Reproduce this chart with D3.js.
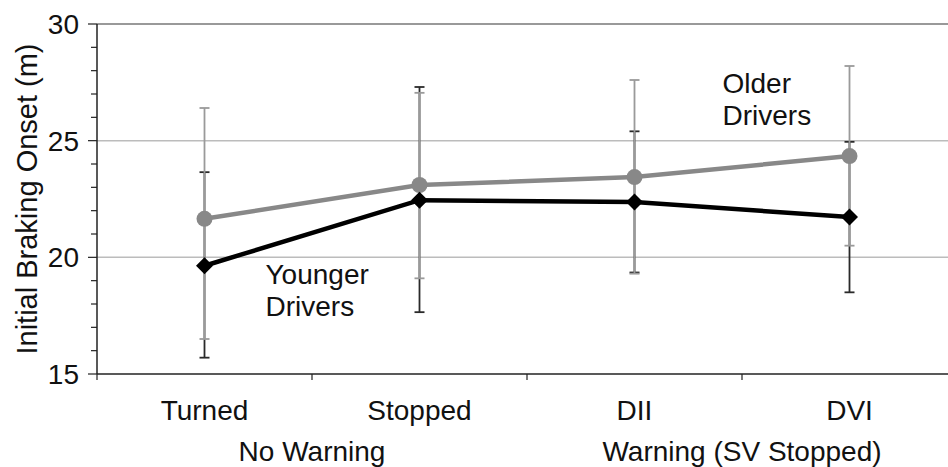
<!DOCTYPE html>
<html>
<head>
<meta charset="utf-8">
<script src="https://cdn.jsdelivr.net/npm/d3@7"></script>
<style>
  body { margin: 0; background: #fff; }
  text { font-family: "Liberation Sans", Arial, sans-serif; fill: #111; }
</style>
</head>
<body>
<div id="chart"></div>
<script>
// categories and groups
var categories = ["Turned", "Stopped", "DII", "DVI"];
var groups = [
    { label: "No Warning", from: "Turned", to: "Stopped" },
    { label: "Warning (SV Stopped)", from: "DII", to: "DVI" }
];

// older drivers (grey)
var olderMean = [21.65, 23.1, 23.44, 24.34];
var olderHigh = [26.4, 27.05, 27.6, 28.2];
var olderLow = [16.5, 19.1, 19.3, 20.5];

// younger drivers (black)
var youngerMean = [19.64, 22.45, 22.37, 21.73];
var youngerHigh = [23.65, 27.3, 25.4, 24.95];
var youngerLow = [15.7, 17.65, 19.35, 18.5];

var yTicks = [15, 20, 25, 30];
var yMinor = d3.range(15, 31, 1);

var width = 948, height = 467;
var plotLeft = 97, plotRight = 957, plotTop = 24, plotBottom = 374;

var svg = d3.select("#chart").append("svg")
    .attr("width", width)
    .attr("height", height);

var x = d3.scaleBand().domain(categories).range([plotLeft, plotRight]);
var y = d3.scaleLinear().domain([15, 30]).range([plotBottom, plotTop]);
var cx = function(c) { return x(c) + x.bandwidth() / 2; };

// gridlines
svg.append("g").selectAll("line")
    .data([20, 25])
    .enter().append("line")
    .attr("x1", plotLeft).attr("x2", width)
    .attr("y1", function(d) { return y(d); })
    .attr("y2", function(d) { return y(d); })
    .attr("stroke", "#bcbcbc")
    .attr("stroke-width", 1.5);

svg.append("line")
    .attr("x1", plotLeft).attr("x2", width)
    .attr("y1", y(30)).attr("y2", y(30))
    .attr("stroke", "#777")
    .attr("stroke-width", 1.5);

// y axis
var yAxis = svg.append("g").attr("transform", "translate(" + plotLeft + ",0)");
yAxis.selectAll("line.minor")
    .data(yMinor)
    .enter().append("line")
    .attr("class", "minor")
    .attr("x1", function(d) { return yTicks.indexOf(d) >= 0 ? -9 : -6; })
    .attr("x2", 0)
    .attr("y1", function(d) { return y(d); })
    .attr("y2", function(d) { return y(d); })
    .attr("stroke", "#222")
    .attr("stroke-width", 1.2);
yAxis.append("line")
    .attr("x1", 0).attr("x2", 0)
    .attr("y1", y(30)).attr("y2", y(15))
    .attr("stroke", "#222")
    .attr("stroke-width", 1.5);
yAxis.selectAll("text")
    .data(yTicks)
    .enter().append("text")
    .attr("x", -18)
    .attr("y", function(d) { return y(d); })
    .attr("dy", "0.36em")
    .attr("text-anchor", "end")
    .style("font-size", "28px")
    .text(function(d) { return d; });

svg.append("text")
    .attr("transform", "translate(37," + ((plotTop + plotBottom) / 2) + ") rotate(-90)")
    .attr("text-anchor", "middle")
    .style("font-size", "29px")
    .text("Initial Braking Onset (m)");

// x axis
var xAxis = svg.append("g");
xAxis.append("line")
    .attr("x1", plotLeft).attr("x2", width)
    .attr("y1", plotBottom).attr("y2", plotBottom)
    .attr("stroke", "#222")
    .attr("stroke-width", 1.5);
xAxis.selectAll("line.tick")
    .data(categories)
    .enter().append("line")
    .attr("class", "tick")
    .attr("x1", function(d) { return x(d); })
    .attr("x2", function(d) { return x(d); })
    .attr("y1", plotBottom).attr("y2", plotBottom + 6)
    .attr("stroke", "#222")
    .attr("stroke-width", 1.2);
xAxis.selectAll("text.cat")
    .data(categories)
    .enter().append("text")
    .attr("class", "cat")
    .attr("x", cx)
    .attr("y", plotBottom + 46)
    .attr("text-anchor", "middle")
    .style("font-size", "28px")
    .text(function(d) { return d; });
xAxis.selectAll("text.grp")
    .data(groups)
    .enter().append("text")
    .attr("class", "grp")
    .attr("x", function(d) { return (cx(d.from) + cx(d.to)) / 2; })
    .attr("y", plotBottom + 87)
    .attr("text-anchor", "middle")
    .style("font-size", "28px")
    .text(function(d) { return d.label; });

// error bars
function errorBars(low, high, color) {
    var g = svg.append("g");
    var rows = categories.map(function(c, i) { return { c: c, lo: low[i], hi: high[i] }; });
    g.selectAll("line.stem").data(rows).enter().append("line")
        .attr("class", "stem")
        .attr("x1", function(d) { return cx(d.c); })
        .attr("x2", function(d) { return cx(d.c); })
        .attr("y1", function(d) { return y(d.hi); })
        .attr("y2", function(d) { return y(d.lo); })
        .attr("stroke", color).attr("stroke-width", 1.8);
    ["hi", "lo"].forEach(function(k) {
        g.selectAll("line.cap" + k).data(rows).enter().append("line")
            .attr("class", "cap" + k)
            .attr("x1", function(d) { return cx(d.c) - 5; })
            .attr("x2", function(d) { return cx(d.c) + 5; })
            .attr("y1", function(d) { return y(d[k]); })
            .attr("y2", function(d) { return y(d[k]); })
            .attr("stroke", color).attr("stroke-width", 1.8);
    });
}
errorBars(youngerLow, youngerHigh, "#2a2a2a");
errorBars(olderLow, olderHigh, "#9a9a9a");

var line = d3.line()
    .x(function(d, i) { return cx(categories[i]); })
    .y(function(d) { return y(d); });

// older series
svg.append("path")
    .attr("d", line(olderMean))
    .attr("fill", "none")
    .attr("stroke", "#888")
    .attr("stroke-width", 4.5);
svg.append("g").selectAll("circle")
    .data(olderMean)
    .enter().append("circle")
    .attr("cx", function(d, i) { return cx(categories[i]); })
    .attr("cy", function(d) { return y(d); })
    .attr("r", 8)
    .attr("fill", "#888");

// younger series
svg.append("path")
    .attr("d", line(youngerMean))
    .attr("fill", "none")
    .attr("stroke", "#000")
    .attr("stroke-width", 4.5);
svg.append("g").selectAll("path")
    .data(youngerMean)
    .enter().append("path")
    .attr("d", d3.symbol().type(d3.symbolSquare).size(145))
    .attr("transform", function(d, i) {
        return "translate(" + cx(categories[i]) + "," + y(d) + ") rotate(45)";
    })
    .attr("fill", "#000");

// series labels
var labels = [
    { lines: ["Older", "Drivers"], cat: "DII", dx: 88, value: 27.05 },
    { lines: ["Younger", "Drivers"], cat: "Turned", dx: 61, value: 18.85 }
];
labels.forEach(function(l) {
    var t = svg.append("text")
        .attr("x", cx(l.cat) + l.dx)
        .attr("y", y(l.value))
        .style("font-size", "28px");
    l.lines.forEach(function(s, i) {
        t.append("tspan")
            .attr("x", cx(l.cat) + l.dx)
            .attr("dy", i === 0 ? 0 : 32)
            .text(s);
    });
});
</script>
</body>
</html>
